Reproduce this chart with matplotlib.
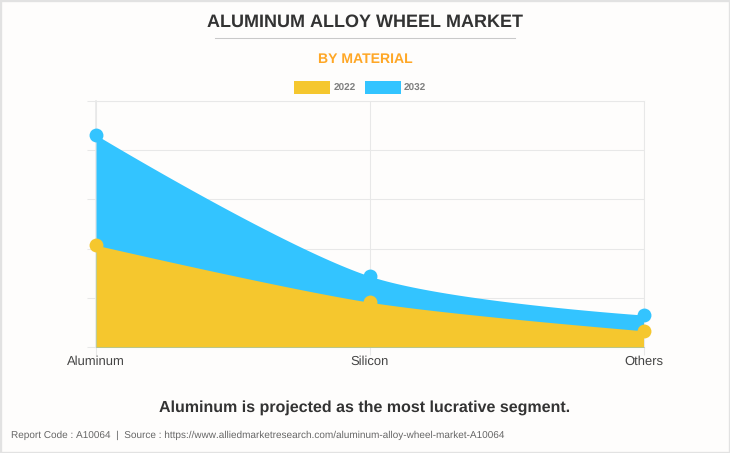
import numpy as np
import matplotlib
matplotlib.use("Agg")
import matplotlib.pyplot as plt
from matplotlib.patches import Rectangle

categories = ["Aluminum", "Silicon", "Others"]
values_2022 = [2.07, 0.91, 0.33]
values_2032 = [4.31, 1.44, 0.65]
series_names = ["2022", "2032"]
y_ticks = [0, 1, 2, 3, 4, 5]

W, H = 730, 453
BG = "#FEFDFC"
YEL = "#F5C72E"
BLU = "#33C4FF"
GRID = "#E8E8E8"
plt.rcParams["font.family"] = ["Liberation Sans", "DejaVu Sans"]
plt.rcParams["text.hinting"] = "no_hinting"
plt.rcParams["text.hinting_factor"] = 1

fig = plt.figure(figsize=(W / 100, H / 100), dpi=100, facecolor=BG)
fig.add_artist(Rectangle((0, 0), 1, 1, transform=fig.transFigure, fill=False,
                         edgecolor="#E2E2E2", linewidth=2.4))
L, R, T, B = 96, 643.5, 101, 347
ax = fig.add_axes([L / W, 1 - B / H, (R - L) / W, (B - T) / H], facecolor=BG)
x = np.arange(len(categories), dtype=float)
ax.set_xlim(0, len(categories) - 1)
ax.set_ylim(y_ticks[0], y_ticks[-1])


def smooth(vals, tension=0.3, n=60):
    """Cardinal bezier through the data values, as a browser chart draws it."""
    sx = (R - L) / (len(vals) - 1)
    sy = (B - T) / (y_ticks[-1] - y_ticks[0])
    px = x * sx
    py = np.array(vals, dtype=float) * sy
    xs, ys = [], []
    for i in range(len(vals) - 1):
        p0, p3 = np.array([px[i], py[i]]), np.array([px[i + 1], py[i + 1]])
        c1 = p0.copy()
        c2 = p3.copy()
        if i > 0:
            a = np.array([px[i - 1], py[i - 1]])
            d01, d12 = np.hypot(*(p0 - a)), np.hypot(*(p3 - p0))
            c1 = p0 + tension * d12 / (d01 + d12) * (p3 - a)
        if i + 2 < len(vals):
            b = np.array([px[i + 2], py[i + 2]])
            d12, d23 = np.hypot(*(p3 - p0)), np.hypot(*(b - p3))
            c2 = p3 - tension * d12 / (d12 + d23) * (b - p0)
        t = np.linspace(0, 1, n)[:, None]
        pts = (1 - t) ** 3 * p0 + 3 * (1 - t) ** 2 * t * c1 + 3 * (1 - t) * t ** 2 * c2 + t ** 3 * p3
        xs.extend(pts[:, 0] / sx)
        ys.extend(pts[:, 1] / sy)
    return np.array(xs), np.array(ys)


ax.set_xticks(x, categories)
ax.set_yticks(y_ticks, [""] * len(y_ticks))
ax.grid(True, color=GRID, linewidth=0.75)
ax.set_axisbelow(True)
for s in ax.spines.values():
    s.set_color(GRID)
    s.set_linewidth(0.75)
ax.spines["bottom"].set_color("#C8C8C8")
ax.spines["left"].set_linewidth(1.2)
ax.tick_params(axis="y", length=6.5, color=GRID, width=0.75)
ax.tick_params(axis="x", length=6, color=GRID, width=0.75, labelsize=9.1,
               labelcolor="#444444", pad=0)

for vals, col, z in [(values_2032, BLU, 3), (values_2022, YEL, 5)]:
    cx, cy = smooth(vals)
    ax.fill_between(cx, 0, cy, color=col, linewidth=0, zorder=z)
    ax.plot(x, vals, "o", color=col, ms=10, mew=0, clip_on=False, zorder=z + 1)

fig.text(365 / W, 1 - 22 / H, "ALUMINUM ALLOY WHEEL MARKET", ha="center", va="center",
         fontsize=12.75, fontweight="bold", color="#333333")
fig.add_artist(plt.Line2D([215 / W, 515 / W], [1 - 37.5 / H] * 2, color="#C9C9C9", lw=0.75))
fig.text(365 / W, 1 - 59.5 / H, "BY MATERIAL", ha="center", va="center",
         fontsize=10.1, fontweight="bold", color="#FFA726")

for name, col, x0, tx in zip(series_names, [YEL, BLU], [294, 364.5], [334, 404]):
    fig.add_artist(Rectangle((x0 / W, 1 - 94 / H), 36 / W, 13 / H, transform=fig.transFigure,
                             facecolor=col, edgecolor="none"))
    fig.text(tx / W, 1 - 88 / H, name, ha="left", va="center", fontsize=7.4,
             fontweight="bold", color="#808080")

fig.text(365 / W, 1 - 408 / H, "Aluminum is projected as the most lucrative segment.",
         ha="center", va="center", fontsize=11.5, fontweight="bold", color="#333333")
fig.text(11 / W, 1 - 435.5 / H,
         "Report Code : A10064  |  Source : https://www.alliedmarketresearch.com/aluminum-alloy-wheel-market-A10064",
         ha="left", va="center", fontsize=7.2, color="#666666")

fig.savefig("out.png", dpi=100, facecolor=BG)
